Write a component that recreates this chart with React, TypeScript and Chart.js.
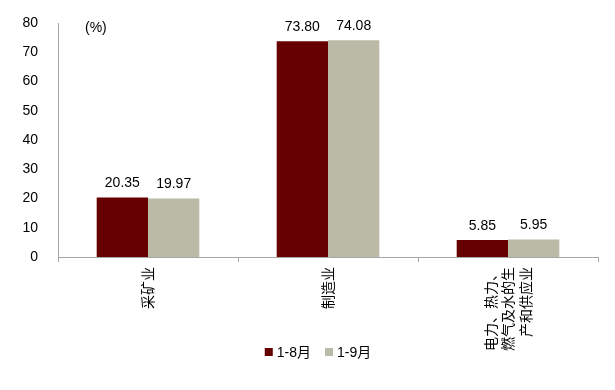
import React, { useEffect, useRef } from "react";
import { Chart, registerables } from "chart.js";

Chart.register(...registerables);

const categories: (string | string[])[] = [
  "采矿业",
  "制造业",
  ["电力、热力、", "燃气及水的生", "产和供应业"],
];
const seriesNames = ["1-8月", "1-9月"];
const series1 = [20.35, 73.8, 5.85];
const series2 = [19.97, 74.08, 5.95];
const yTicks = [0, 10, 20, 30, 40, 50, 60, 70, 80];
const unitLabel = "(%)";

const FONT = "'Liberation Sans', Arial, 'Noto Sans CJK SC', sans-serif";
const X_FONT = "'Noto Sans CJK SC', 'Liberation Sans', sans-serif";
const COLORS = ["#660000", "#bbbaa7"];
const X_FONT_SIZE = 14;
const X_LINE_HEIGHT = 1.25;

const centerLinesPlugin = {
  id: "centerLines",
  beforeDraw(chart: any) {
    const scale = chart.scales.x;
    const items = scale.getLabelItems();
    const lh = X_FONT_SIZE * X_LINE_HEIGHT;
    items.forEach((it: any) => {
      const n = Array.isArray(it.label) ? it.label.length : 1;
      if (n > 1 && !it.__shifted) {
        it.options.translation[0] -= ((n - 1) / 2) * lh;
        it.__shifted = true;
      }
    });
  },
};

const overlayPlugin = {
  id: "overlay",
  afterDatasetsDraw(chart: any) {
    const ctx = chart.ctx;
    ctx.save();
    ctx.fillStyle = "#000";
    ctx.font = `14px ${FONT}`;
    ctx.textAlign = "center";
    ctx.textBaseline = "bottom";
    chart.data.datasets.forEach((ds: any, i: number) => {
      const meta = chart.getDatasetMeta(i);
      meta.data.forEach((bar: any, j: number) => {
        ctx.fillText(Number(ds.data[j]).toFixed(2), bar.x, bar.y - 7);
      });
    });
    const ca = chart.chartArea;
    ctx.textAlign = "left";
    ctx.textBaseline = "middle";
    ctx.fillText(unitLabel, ca.left + 27, ca.top + 5);
    const box = 8;
    const gapBox = 4;
    const gapItem = 14;
    const items = chart.data.datasets.map((ds: any) => ({
      label: ds.label,
      color: ds.backgroundColor,
      w: box + gapBox + ctx.measureText(ds.label).width,
    }));
    const total = items.reduce((s: number, it: any) => s + it.w, 0) + gapItem * (items.length - 1);
    let x = 318 - total / 2;
    const y = 352;
    items.forEach((it: any) => {
      ctx.fillStyle = it.color;
      ctx.fillRect(x, y - box / 2, box, box);
      ctx.fillStyle = "#000";
      ctx.textBaseline = "middle";
      ctx.fillText(it.label, x + box + gapBox, y + 1);
      x += it.w + gapItem;
    });
    ctx.restore();
  },
};

export default function App() {
  const ref = useRef<HTMLCanvasElement | null>(null);
  useEffect(() => {
    document.body.style.margin = "0";
    const chart = new Chart(ref.current!, {
      type: "bar",
      data: {
        labels: categories,
        datasets: [
          { label: seriesNames[0], data: series1, backgroundColor: COLORS[0] },
          { label: seriesNames[1], data: series2, backgroundColor: COLORS[1] },
        ],
      },
      options: {
        animation: false,
        responsive: false,
        devicePixelRatio: 1,
        layout: { padding: { top: 23, right: 17, bottom: 0, left: 0 } },
        plugins: { legend: { display: false }, tooltip: { enabled: false } },
        datasets: { bar: { categoryPercentage: 0.57, barPercentage: 1 } },
        scales: {
          x: {
            grid: {
              offset: true,
              drawOnChartArea: false,
              drawTicks: true,
              tickLength: 5,
              color: "#a6a6a6",
            },
            border: { display: true, color: "#a6a6a6" },
            ticks: {
              minRotation: 90,
              maxRotation: 90,
              autoSkip: false,
              padding: 5,
              color: "#000",
              font: { family: X_FONT, size: X_FONT_SIZE, lineHeight: X_LINE_HEIGHT },
            },
            afterFit(scale: any) {
              scale.height = 133;
              scale.paddingLeft = 0;
              scale.paddingRight = 0;
              scale.paddingTop = 0;
              scale.paddingBottom = 0;
            },
          },
          y: {
            min: 0,
            max: 80,
            afterBuildTicks(scale: any) {
              scale.ticks = yTicks.map((v) => ({ value: v }));
            },
            grid: { display: false, drawTicks: false },
            border: { display: true, color: "#a6a6a6" },
            ticks: {
              padding: 20,
              color: "#000",
              font: { family: FONT, size: 14 },
            },
            afterFit(scale: any) {
              scale.width = 58;
              scale.paddingTop = 0;
              scale.paddingBottom = 0;
            },
          },
        },
      },
      plugins: [centerLinesPlugin, overlayPlugin],
    });
    return () => chart.destroy();
  }, []);
  return <canvas ref={ref} width={615} height={390} style={{ display: "block" }} />;
}
